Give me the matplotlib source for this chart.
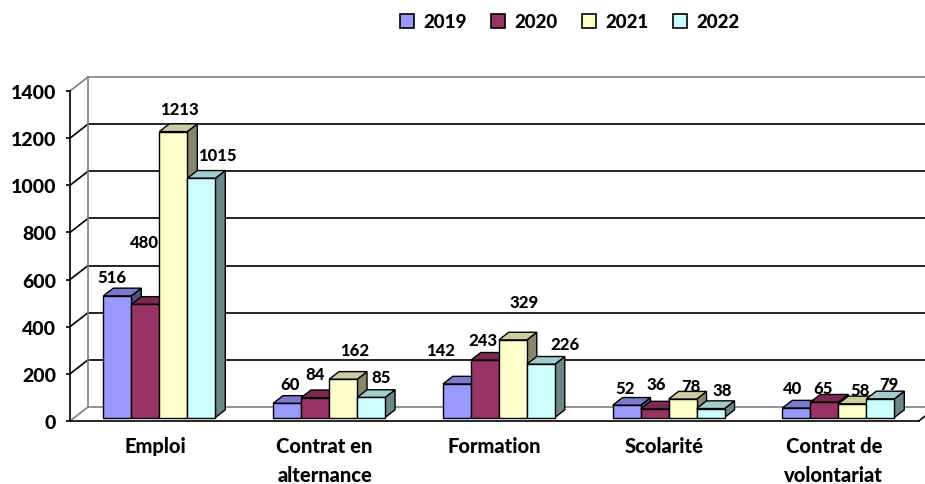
import matplotlib
matplotlib.use("Agg")
import matplotlib.pyplot as plt
from matplotlib.patches import Polygon, Patch
from matplotlib.colors import to_rgb

plt.rcParams["font.family"] = ["Lato", "DejaVu Sans"]
WEIGHT = 900

categories = ["Emploi", "Contrat en\nalternance", "Formation", "Scolarité", "Contrat de\nvolontariat"]
years = ["2019", "2020", "2021", "2022"]
v2019 = [516, 60, 142, 52, 40]
v2020 = [480, 84, 243, 36, 65]
v2021 = [1213, 162, 329, 78, 58]
v2022 = [1015, 85, 226, 38, 79]
series = [v2019, v2020, v2021, v2022]
yticks = [0, 200, 400, 600, 800, 1000, 1200, 1400]

colors = ["#9999FF", "#993366", "#FFFFCC", "#CCFFFF"]

# Excel puts the 3D data labels a bit anywhere, nudges in pixels per series
label_dx = [[-5, 3, -16, -2, -4], [-1, 0, -2, 1.5, -1],
            [6, 11, 11.5, 8, 8], [16, 10, 24.5, 12, 8]]
label_dy = [[19, 19, 34, 17, 20], [62, 24, 20, 25, 14],
            [23, 29, 38, 13, 14], [23, 20, 20, 18.5, 15]]

# fake 3D: depth offset of the walls in data units
PX_X = 169.75            # pixels per category
PX_Y = 330 / 1400        # pixels per value unit
DX = 18 / PX_X
DY = 14 / PX_Y
D0, D1 = 0.25, 0.8       # bar front / back depth
BW = 28 / PX_X
GRAY = "#808080"


def proj(x, v, d):
    return (x + DX * d, v + DY * d)


def shade(c, f):
    r, g, b = to_rgb(c)
    return (r * f, g * f, b * f)


fig = plt.figure(figsize=(9.25, 4.85), dpi=100)
ax = fig.add_axes([70 / 925, 63 / 485, 855 / 925, 330 / 485])
ax.set_xlim(-0.5, -0.5 + 855 / PX_X)
ax.set_ylim(0, 1400)

# walls and grid
xl_wall = -0.5
x_back_left = xl_wall + DX
x_far = 6
for t in yticks:
    col = GRAY if t in (0, 1400) else "black"
    ax.plot([xl_wall, x_back_left], [t, t + DY], color=col, lw=1.2, clip_on=False, zorder=1)
    ax.plot([x_back_left, x_far], [t + DY, t + DY], color=col, lw=1.2, clip_on=False, zorder=1)
ax.plot([x_back_left, x_back_left], [DY, 1400 + DY], color=GRAY, lw=1.2, clip_on=False, zorder=1)
# right end of the floor
ax.plot([4.5, 4.5 + DX], [0, DY], color="black", lw=1.2, clip_on=False, zorder=1)

# bars
for i in range(len(categories)):
    for k, vals in enumerate(series):
        v = vals[i]
        xl = i + (k - 2) * BW
        xr = xl + BW
        z = 3 + i + k * 0.1
        front = [proj(xl, 0, D0), proj(xr, 0, D0), proj(xr, v, D0), proj(xl, v, D0)]
        top = [proj(xl, v, D0), proj(xr, v, D0), proj(xr, v, D1), proj(xl, v, D1)]
        side = [proj(xr, 0, D0), proj(xr, v, D0), proj(xr, v, D1), proj(xr, 0, D1)]
        for pts, f in ((side, 0.53), (top, 0.8), (front, 1.0)):
            ax.add_patch(Polygon(pts, closed=True, facecolor=shade(colors[k], f),
                                 edgecolor="black", lw=1.0, joinstyle="miter",
                                 clip_on=False, zorder=z))
        ax.annotate(str(v), proj(xl + BW / 2, v, D0),
                    xytext=(label_dx[k][i], label_dy[k][i]), textcoords="offset pixels",
                    ha="center", va="center", fontsize=12, fontweight=WEIGHT,
                    zorder=20, annotation_clip=False)

for s in ("top", "right"):
    ax.spines[s].set_visible(False)
ax.spines["left"].set_bounds(0, 1400)
ax.spines["bottom"].set_bounds(-0.5, 4.5)
ax.spines["left"].set_linewidth(1.2)
ax.spines["bottom"].set_linewidth(1.2)
ax.patch.set_alpha(0)

ax.set_yticks(yticks)
ax.set_yticklabels([str(t) for t in yticks], fontsize=14, fontweight=WEIGHT)
ax.tick_params(axis="y", length=3, width=1.2, pad=7)
ax.set_xticks(range(len(categories)))
ax.set_xticklabels(categories, fontsize=14.5, fontweight=WEIGHT, linespacing=1.6)
ax.tick_params(axis="x", length=0, pad=11)

handles = [Patch(facecolor=c, edgecolor="black", lw=1.2) for c in colors]
fig.legend(handles, years, loc="center", bbox_to_anchor=(0.616, 0.953), ncol=4,
           frameon=False, handlelength=0.75, handleheight=0.75, handletextpad=0.5,
           columnspacing=1.3, prop={"size": 13.5, "weight": WEIGHT})

fig.savefig("out.png", dpi=100)
